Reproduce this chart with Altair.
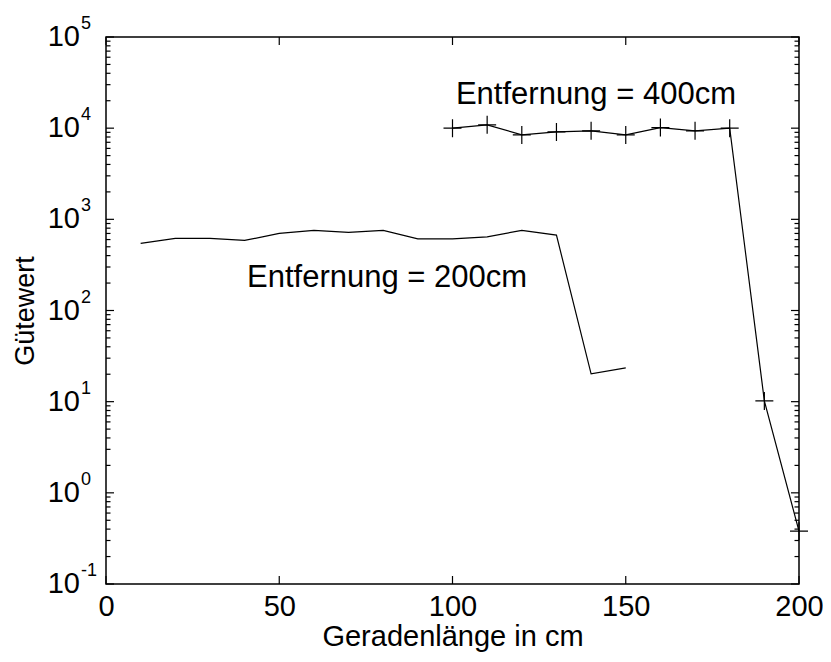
import altair as alt
import pandas as pd

# ---- data ----
x200 = [10, 20, 30, 40, 50, 60, 70, 80, 90, 100, 110, 120, 130, 140, 150]
y200 = [544, 619, 619, 587, 701, 756, 719, 756, 611, 611, 643, 756, 671, 20.2, 23.5]

x400 = [100, 110, 120, 130, 140, 150, 160, 170, 180, 190, 200]
y400 = [10000, 10870, 8435, 9100, 9340, 8440, 10150, 9340, 10000, 10.2, 0.38]

ann_labels = ["Entfernung = 400cm", "Entfernung = 200cm"]
ann_x = [141.4, 81.1]
ann_y = [18400, 180]

decades = [0.1, 1, 10, 100, 1000, 10000, 100000]
exponents = ["-1", "0", "1", "2", "3", "4", "5"]
minor_mult = [2, 3, 4, 5, 6, 7, 8, 9]
xticks = [0, 50, 100, 150, 200]

W, H = 693, 547
FONT = "Liberation Sans, Arial, sans-serif"

df200 = pd.DataFrame({"x": x200, "y": y200, "s": "200"})
df400 = pd.DataFrame({"x": x400, "y": y400, "s": "400"})
ann = pd.DataFrame({"x": ann_x, "y": ann_y, "t": ann_labels})
dec = pd.DataFrame({"v": decades, "e": exponents})
minors = pd.DataFrame({"v": [m * d for d in decades[:-1] for m in minor_mult]})
xt = pd.DataFrame({"x": xticks})

xs = alt.Scale(domain=[0, 200], nice=False, zero=False)
ys = alt.Scale(type="log", domain=[0.1, 100000], nice=False)

X = alt.X("x:Q", scale=xs, axis=alt.Axis(
    values=xticks, ticks=False, domain=False, grid=False, labelFontSize=29,
    labelFont=FONT, labelColor="black", labelPadding=8, labelFlush=False,
    title="Geradenlänge in cm", titleFont=FONT, titleFontSize=29,
    titleFontWeight="normal", titleColor="black", titlePadding=1))
Y = alt.Y("y:Q", scale=ys, axis=alt.Axis(
    labels=False, ticks=False, domain=False, grid=False,
    title="Gütewert", titleFont=FONT, titleFontSize=27,
    titleFontWeight="normal", titleColor="black",
    titleX=-73, titleY=H / 2, titleAlign="center", titleBaseline="alphabetic",
    titleAngle=270))

line200 = alt.Chart(df200).mark_line(color="black", strokeWidth=1.2).encode(x=X, y=Y)
line400 = alt.Chart(df400).mark_line(color="black", strokeWidth=1.2).encode(
    x=alt.X("x:Q", scale=xs), y=alt.Y("y:Q", scale=ys))
pts400 = alt.Chart(df400).mark_point(
    shape="M-1,0L1,0M0,-1L0,1", size=324, color="black", filled=False,
    strokeWidth=1.2, opacity=1).encode(x=alt.X("x:Q", scale=xs), y=alt.Y("y:Q", scale=ys))

text = alt.Chart(ann).mark_text(font=FONT, fontSize=31, align="center",
                                baseline="alphabetic", color="black").encode(
    x=alt.X("x:Q", scale=xs), y=alt.Y("y:Q", scale=ys), text="t:N")

# inward ticks
yv = alt.Y("v:Q", scale=ys)
maj_l = alt.Chart(dec).mark_rule(color="black", strokeWidth=1.2).encode(
    y=yv, x=alt.value(0), x2=alt.value(8))
maj_r = alt.Chart(dec).mark_rule(color="black", strokeWidth=1.2).encode(
    y=yv, x=alt.value(W), x2=alt.value(W - 8))
min_l = alt.Chart(minors).mark_rule(color="black", strokeWidth=1.2).encode(
    y=yv, x=alt.value(0), x2=alt.value(4.5))
min_r = alt.Chart(minors).mark_rule(color="black", strokeWidth=1.2).encode(
    y=yv, x=alt.value(W), x2=alt.value(W - 4.5))
xb = alt.Chart(xt).mark_rule(color="black", strokeWidth=1.2).encode(
    x=alt.X("x:Q", scale=xs), y=alt.value(H), y2=alt.value(H - 8))
xtp = alt.Chart(xt).mark_rule(color="black", strokeWidth=1.2).encode(
    x=alt.X("x:Q", scale=xs), y=alt.value(0), y2=alt.value(8))

# y tick labels 10^n
lab10 = alt.Chart(dec).mark_text(font=FONT, fontSize=29, align="right",
                                 baseline="middle", color="black", text="10").encode(
    y=yv, x=alt.value(-26))
labexp = alt.Chart(dec).mark_text(font=FONT, fontSize=18, align="left",
                                  baseline="alphabetic", dy=-8, color="black").encode(
    y=yv, x=alt.value(-25), text="e:N")

chart = alt.layer(
    line200, line400, pts400, text, maj_l, maj_r, min_l, min_r, xb, xtp, lab10, labexp
).properties(
    width=W, height=H,
    autosize=alt.AutoSizeParams(type="none"),
    padding={"left": 98, "top": 29, "right": 24, "bottom": 70},
    background="white",
).configure_view(stroke="black", strokeWidth=1.5)

chart.save("out.html", embed_options={"renderer": "svg", "actions": False})
